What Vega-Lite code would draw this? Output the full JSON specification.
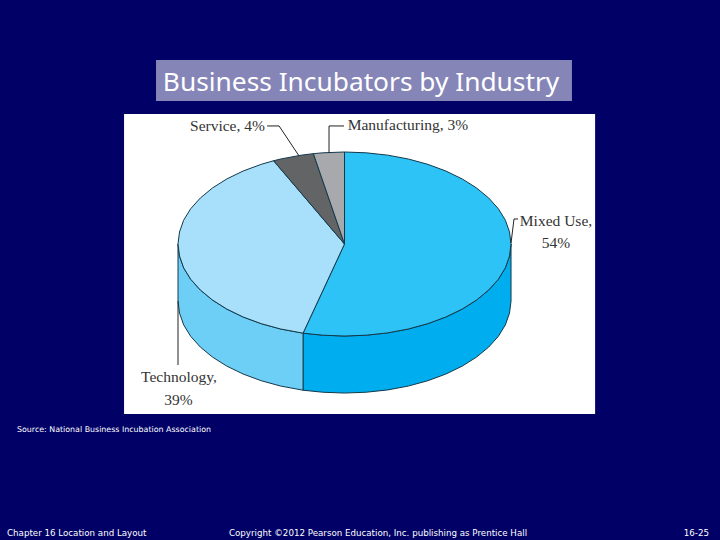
{"$schema":"https://vega.github.io/schema/vega-lite/v6.json","width":720,"height":540,"padding":0,"autosize":{"type":"none"},"background":"#000066","config":{"view":{"stroke":null}},
"datasets":{
"panels":[{"panel":"title box","x":-1.132,"x2":1.366,"y":2.0,"y2":1.554},{"panel":"figure","x":-1.324,"x2":1.505,"y":1.413,"y2":-1.848}],
"faces":[
{"face":"Mixed Use side","x":1,"y":0},{"face":"Mixed Use side","x":0.991,"y":-0.131},{"face":"Mixed Use side","x":0.966,"y":-0.259},{"face":"Mixed Use side","x":0.924,"y":-0.383},{"face":"Mixed Use side","x":0.866,"y":-0.5},{"face":"Mixed Use side","x":0.793,"y":-0.609},{"face":"Mixed Use side","x":0.707,"y":-0.707},{"face":"Mixed Use side","x":0.609,"y":-0.793},{"face":"Mixed Use side","x":0.5,"y":-0.866},{"face":"Mixed Use side","x":0.383,"y":-0.924},{"face":"Mixed Use side","x":0.259,"y":-0.966},{"face":"Mixed Use side","x":0.131,"y":-0.991},{"face":"Mixed Use side","x":0,"y":-1},{"face":"Mixed Use side","x":-0.131,"y":-0.991},{"face":"Mixed Use side","x":-0.249,"y":-0.969},
{"face":"Mixed Use side","x":-0.249,"y":-1.589},{"face":"Mixed Use side","x":-0.131,"y":-1.611},{"face":"Mixed Use side","x":0,"y":-1.62},{"face":"Mixed Use side","x":0.131,"y":-1.611},{"face":"Mixed Use side","x":0.259,"y":-1.586},{"face":"Mixed Use side","x":0.383,"y":-1.544},{"face":"Mixed Use side","x":0.5,"y":-1.486},{"face":"Mixed Use side","x":0.609,"y":-1.413},{"face":"Mixed Use side","x":0.707,"y":-1.327},{"face":"Mixed Use side","x":0.793,"y":-1.229},{"face":"Mixed Use side","x":0.866,"y":-1.12},{"face":"Mixed Use side","x":0.924,"y":-1.003},{"face":"Mixed Use side","x":0.966,"y":-0.879},{"face":"Mixed Use side","x":0.991,"y":-0.751},{"face":"Mixed Use side","x":1,"y":-0.62},
{"face":"Technology side","x":-0.249,"y":-0.969},{"face":"Technology side","x":-0.383,"y":-0.924},{"face":"Technology side","x":-0.5,"y":-0.866},{"face":"Technology side","x":-0.609,"y":-0.793},{"face":"Technology side","x":-0.707,"y":-0.707},{"face":"Technology side","x":-0.793,"y":-0.609},{"face":"Technology side","x":-0.866,"y":-0.5},{"face":"Technology side","x":-0.924,"y":-0.383},{"face":"Technology side","x":-0.966,"y":-0.259},{"face":"Technology side","x":-0.991,"y":-0.131},{"face":"Technology side","x":-1,"y":0},
{"face":"Technology side","x":-1,"y":-0.62},{"face":"Technology side","x":-0.991,"y":-0.751},{"face":"Technology side","x":-0.966,"y":-0.879},{"face":"Technology side","x":-0.924,"y":-1.003},{"face":"Technology side","x":-0.866,"y":-1.12},{"face":"Technology side","x":-0.793,"y":-1.229},{"face":"Technology side","x":-0.707,"y":-1.327},{"face":"Technology side","x":-0.609,"y":-1.413},{"face":"Technology side","x":-0.5,"y":-1.486},{"face":"Technology side","x":-0.383,"y":-1.544},{"face":"Technology side","x":-0.249,"y":-1.589},
{"face":"Mixed Use top","x":0,"y":0},{"face":"Mixed Use top","x":0,"y":1},{"face":"Mixed Use top","x":0.131,"y":0.991},{"face":"Mixed Use top","x":0.259,"y":0.966},{"face":"Mixed Use top","x":0.383,"y":0.924},{"face":"Mixed Use top","x":0.5,"y":0.866},{"face":"Mixed Use top","x":0.609,"y":0.793},{"face":"Mixed Use top","x":0.707,"y":0.707},{"face":"Mixed Use top","x":0.793,"y":0.609},{"face":"Mixed Use top","x":0.866,"y":0.5},{"face":"Mixed Use top","x":0.924,"y":0.383},{"face":"Mixed Use top","x":0.966,"y":0.259},{"face":"Mixed Use top","x":0.991,"y":0.131},{"face":"Mixed Use top","x":1,"y":0},{"face":"Mixed Use top","x":0.991,"y":-0.131},{"face":"Mixed Use top","x":0.966,"y":-0.259},{"face":"Mixed Use top","x":0.924,"y":-0.383},{"face":"Mixed Use top","x":0.866,"y":-0.5},{"face":"Mixed Use top","x":0.793,"y":-0.609},{"face":"Mixed Use top","x":0.707,"y":-0.707},{"face":"Mixed Use top","x":0.609,"y":-0.793},{"face":"Mixed Use top","x":0.5,"y":-0.866},{"face":"Mixed Use top","x":0.383,"y":-0.924},{"face":"Mixed Use top","x":0.259,"y":-0.966},{"face":"Mixed Use top","x":0.131,"y":-0.991},{"face":"Mixed Use top","x":0,"y":-1},{"face":"Mixed Use top","x":-0.131,"y":-0.991},{"face":"Mixed Use top","x":-0.249,"y":-0.969},
{"face":"Technology top","x":0,"y":0},{"face":"Technology top","x":-0.249,"y":-0.969},{"face":"Technology top","x":-0.383,"y":-0.924},{"face":"Technology top","x":-0.5,"y":-0.866},{"face":"Technology top","x":-0.609,"y":-0.793},{"face":"Technology top","x":-0.707,"y":-0.707},{"face":"Technology top","x":-0.793,"y":-0.609},{"face":"Technology top","x":-0.866,"y":-0.5},{"face":"Technology top","x":-0.924,"y":-0.383},{"face":"Technology top","x":-0.966,"y":-0.259},{"face":"Technology top","x":-0.991,"y":-0.131},{"face":"Technology top","x":-1,"y":0},{"face":"Technology top","x":-0.991,"y":0.131},{"face":"Technology top","x":-0.966,"y":0.259},{"face":"Technology top","x":-0.924,"y":0.383},{"face":"Technology top","x":-0.866,"y":0.5},{"face":"Technology top","x":-0.793,"y":0.609},{"face":"Technology top","x":-0.707,"y":0.707},{"face":"Technology top","x":-0.609,"y":0.793},{"face":"Technology top","x":-0.5,"y":0.866},{"face":"Technology top","x":-0.426,"y":0.905},
{"face":"Service top","x":0,"y":0},{"face":"Service top","x":-0.426,"y":0.905},{"face":"Service top","x":-0.383,"y":0.924},{"face":"Service top","x":-0.259,"y":0.966},{"face":"Service top","x":-0.187,"y":0.982},
{"face":"Manufacturing top","x":0,"y":0},{"face":"Manufacturing top","x":-0.187,"y":0.982},{"face":"Manufacturing top","x":-0.131,"y":0.991},{"face":"Manufacturing top","x":0,"y":1}
],
"leaders":[
{"to":"Service","x":-0.465,"y":1.283},{"to":"Service","x":-0.393,"y":1.283},{"to":"Service","x":-0.273,"y":0.957},
{"to":"Manufacturing","x":-0.003,"y":1.283},{"to":"Manufacturing","x":-0.093,"y":1.283},{"to":"Manufacturing","x":-0.093,"y":0.989},
{"to":"Mixed Use","x":1.042,"y":0.272},{"to":"Mixed Use","x":1.018,"y":0.272},{"to":"Mixed Use","x":1,"y":0.011},
{"to":"Technology","x":-1,"y":-0.62},{"to":"Technology","x":-1,"y":-1.315}
],
"labels":[{"t":"Service, 4%","x":-0.703,"y":1.283},{"t":"Manufacturing, 3%","x":0.381,"y":1.293},{"t":"Mixed Use,","x":1.27,"y":0.25},{"t":"54%","x":1.27,"y":0.011},{"t":"Technology,","x":-0.994,"y":-1.446},{"t":"39%","x":-0.997,"y":-1.696}],
"headline":[{"t":"Business Incubators by Industry","x":0.099,"y":1.75}],
"notesL":[{"t":"Source: National Business Incubation Association","x":-1.967,"y":-2.022}],
"footL":[{"t":"Chapter 16 Location and Layout","x":-2.027,"y":-3.141},{"t":"Copyright ©2012 Pearson Education, Inc. publishing as Prentice Hall","x":-0.694,"y":-3.141}],
"footR":[{"t":"16-25","x":2.189,"y":-3.141}]
},
"encoding":{
"x":{"field":"x","type":"quantitative","scale":{"domain":[-2.069,2.255],"nice":false,"zero":false},"axis":null},
"y":{"field":"y","type":"quantitative","scale":{"domain":[-3.217,2.652],"nice":false,"zero":false},"axis":null}
},
"resolve":{"scale":{"fill":"independent"}},
"layer":[
{"data":{"name":"panels"},"mark":{"type":"rect","stroke":null},"encoding":{"x2":{"field":"x2"},"y2":{"field":"y2"},"fill":{"field":"panel","type":"nominal","scale":{"domain":["title box","figure"],"range":["#8585B8","#FFFFFF"]},"legend":null}}},
{"data":{"name":"faces"},"transform":[{"window":[{"op":"row_number","as":"seq"}],"groupby":["face"]}],"mark":{"type":"line","interpolate":"linear-closed","stroke":"#12394A","strokeWidth":1,"strokeJoin":"round"},"encoding":{"order":{"field":"seq","type":"quantitative"},"detail":{"field":"face"},"fill":{"field":"face","type":"nominal","scale":{"domain":["Mixed Use top","Mixed Use side","Technology top","Technology side","Service top","Manufacturing top"],"range":["#2DC3F7","#00AEEF","#A8E0FB","#6DCFF6","#636466","#A7A9AC"]},"legend":null}}},
{"data":{"name":"leaders"},"transform":[{"window":[{"op":"row_number","as":"seq"}],"groupby":["to"]}],"mark":{"type":"line","stroke":"#222222","strokeWidth":1},"encoding":{"order":{"field":"seq","type":"quantitative"},"detail":{"field":"to"}}},
{"data":{"name":"labels"},"mark":{"type":"text","font":"Liberation Serif","fontSize":15.5,"color":"#333333","align":"center","baseline":"middle"},"encoding":{"text":{"field":"t"}}},
{"data":{"name":"headline"},"mark":{"type":"text","font":"Noto Sans","fontSize":26.3,"color":"#FFFFFF","align":"center","baseline":"middle"},"encoding":{"text":{"field":"t"}}},
{"data":{"name":"notesL"},"mark":{"type":"text","font":"DejaVu Sans","fontSize":7.9,"color":"#FFFFFF","align":"left","baseline":"middle"},"encoding":{"text":{"field":"t"}}},
{"data":{"name":"footL"},"mark":{"type":"text","font":"DejaVu Sans","fontSize":8.7,"color":"#FFFFFF","align":"left","baseline":"middle"},"encoding":{"text":{"field":"t"}}},
{"data":{"name":"footR"},"mark":{"type":"text","font":"DejaVu Sans","fontSize":8.7,"color":"#FFFFFF","align":"right","baseline":"middle"},"encoding":{"text":{"field":"t"}}}
]}
